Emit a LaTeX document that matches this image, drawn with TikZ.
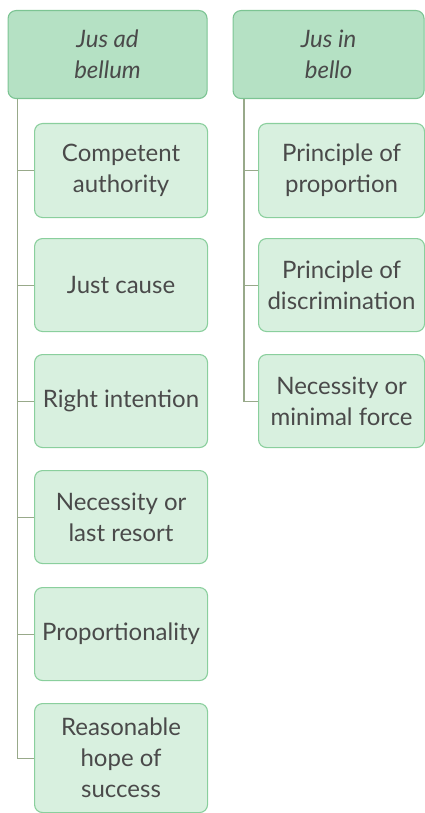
\documentclass[tikz,border=0pt]{standalone}
\usepackage{fontspec}
\setmainfont{Lato}
\definecolor{headfill}{HTML}{B5E1C4}
\definecolor{headline}{HTML}{7CC493}
\definecolor{itemfill}{HTML}{D8F0DF}
\definecolor{itemline}{HTML}{8ACF9D}
\definecolor{wire}{HTML}{98A98A}
\definecolor{ink}{HTML}{4A4A4A}
\tikzset{
  box/.style={draw, rounded corners=8pt, line width=1.1pt, anchor=north west,
    align=center, text=ink, font=\fontsize{24}{31}\selectfont, inner sep=0pt},
  headbox/.style={box, fill=headfill, draw=headline, font=\fontsize{24}{31}\selectfont\itshape},
  itembox/.style={box, fill=itemfill, draw=itemline},
  wire/.style={draw=wire, line width=1.1pt}
}
\begin{document}
\begin{tikzpicture}[x=1pt,y=1pt]
\useasboundingbox (0,0) rectangle (425,-813);
% headers
\node[headbox, minimum width=199pt, minimum height=88pt] (hL) at (7.5,-10) {Jus ad\\bellum};
\node[headbox, minimum width=191pt, minimum height=88pt] (hR) at (232.5,-10) {Jus in\\bello};
% jus ad bellum criteria
\node[itembox, minimum width=173pt, minimum height=94pt] (a1) at (34,-123) {Competent\\authority};
\node[itembox, minimum width=173pt, minimum height=93pt] (a2) at (34,-238) {Just cause};
\node[itembox, minimum width=173pt, minimum height=93pt] (a3) at (34,-354) {Right intention};
\node[itembox, minimum width=173pt, minimum height=93pt] (a4) at (34,-470) {Necessity or\\last resort};
\node[itembox, minimum width=173pt, minimum height=93pt] (a5) at (34,-587) {Proportionality};
\node[itembox, minimum width=173pt, minimum height=109pt] (a6) at (34,-703) {Reasonable\\hope of\\success};
% jus in bello criteria
\node[itembox, minimum width=166pt, minimum height=94pt] (b1) at (258,-123) {Principle of\\proportion};
\node[itembox, minimum width=166pt, minimum height=93pt] (b2) at (258,-238) {Principle of\\discrimination};
\node[itembox, minimum width=166pt, minimum height=93pt] (b3) at (258,-354) {Necessity or\\minimal force};
% tree connectors
\coordinate (tL) at ([xshift=10pt]hL.south west);
\coordinate (tR) at ([xshift=11.5pt]hR.south west);
\foreach \n in {a1,a2,a3,a4,a5,a6} \draw[wire] (tL) |- (\n.west);
\foreach \n in {b1,b2,b3} \draw[wire] (tR) |- (\n.west);
\end{tikzpicture}
\end{document}
